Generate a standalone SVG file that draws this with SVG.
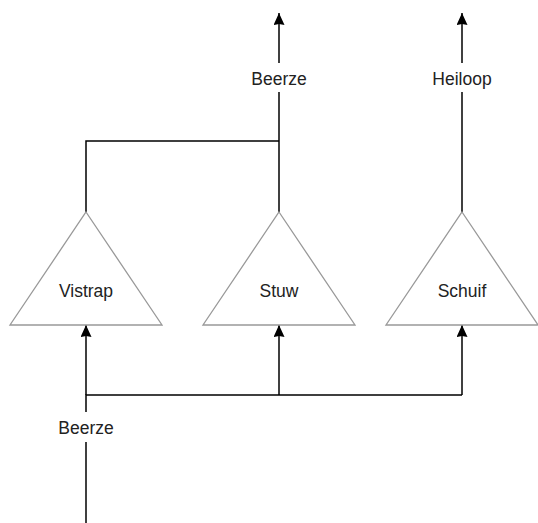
<svg xmlns="http://www.w3.org/2000/svg" width="538" height="523" viewBox="0 0 538 523">
<style>
.tri{fill:#ffffff;stroke:#999999;stroke-width:1.3}
.ln{fill:none;stroke:#000000;stroke-width:1.5}
.lbl{font-family:"Liberation Sans",Arial,sans-serif;font-size:17.5px;fill:#222222;text-anchor:middle}
</style>
<defs>
<marker id="arr" viewBox="0 0 12 11" refX="12" refY="5.5" markerWidth="12" markerHeight="11" markerUnits="userSpaceOnUse" orient="auto">
<path d="M0,0 L12,5.5 L0,11 L1,5.5 Z" fill="#000000"/>
</marker>
</defs>
<rect width="538" height="523" fill="#ffffff"/>
<g id="connectors">
<path class="ln" d="M86,212 V141 H279"/>
<path class="ln" d="M279,212 V92"/>
<path class="ln" d="M279,63 V13" marker-end="url(#arr)"/>
<path class="ln" d="M462,212 V92"/>
<path class="ln" d="M462,63 V13" marker-end="url(#arr)"/>
<path class="ln" d="M86,523 V442"/>
<path class="ln" d="M86,412 V395 H462"/>
<path class="ln" d="M86,395 V325" marker-end="url(#arr)"/>
<path class="ln" d="M279,395 V325" marker-end="url(#arr)"/>
<path class="ln" d="M462,395 V325" marker-end="url(#arr)"/>
<text class="lbl" x="279" y="84.5">Beerze</text>
<text class="lbl" x="462" y="84.5">Heiloop</text>
<text class="lbl" x="86" y="433.5">Beerze</text>
</g>
<g id="vistrap">
<polygon class="tri" points="86,212 162,325 10,325"/>
<text class="lbl" x="86" y="297">Vistrap</text>
</g>
<g id="stuw">
<polygon class="tri" points="279,212 355,325 203,325"/>
<text class="lbl" x="279" y="297">Stuw</text>
</g>
<g id="schuif">
<polygon class="tri" points="462,212 538,325 386,325"/>
<text class="lbl" x="462" y="297">Schuif</text>
</g>
</svg>
